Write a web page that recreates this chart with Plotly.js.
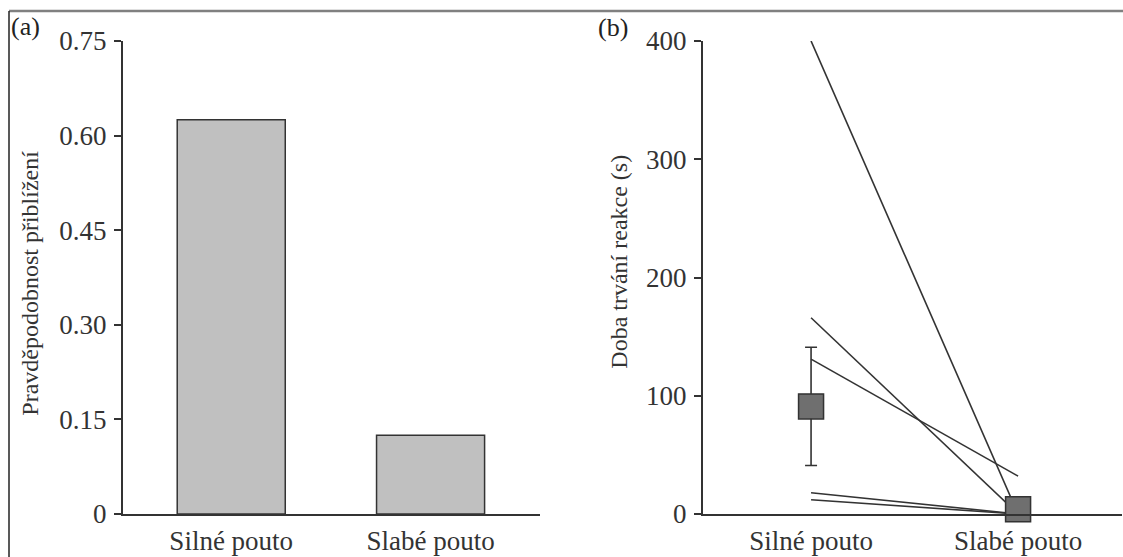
<!DOCTYPE html>
<html>
<head>
<meta charset="utf-8">
<script src="https://cdn.plot.ly/plotly-3.0.1.min.js"></script>
<style>html,body{margin:0;padding:0;background:#fff;}#chart{width:1123px;height:557px;}</style>
</head>
<body>
<div id="chart"></div>
<script>
// Data
var categories = ['Silné pouto', 'Slabé pouto'];
var probApproach = [0.625, 0.125];
var probTickVals = [0, 0.15, 0.30, 0.45, 0.60, 0.75];
var probTickText = ['0', '0.15', '0.30', '0.45', '0.60', '0.75'];

var durTickVals = [0, 100, 200, 300, 400];
var durTickText = ['0', '100', '200', '300', '400'];

// individual subjects: [strong bond, weak bond]
var subj1 = [400, 0];
var subj2 = [166, 0];
var subj3 = [131, 32];
var subj4 = [18, 0];
var subj5 = [12, 0];
var subjects = [subj1, subj2, subj3, subj4, subj5];

var meanDuration = [91, 4];
var errPlus = [50, 0];
var errMinus = [50, 0];

var txt = '#333333';
var fontFam = '"Liberation Serif", "Times New Roman", serif';

var traces = [];
traces.push({
  type: 'bar', x: categories, y: probApproach, xaxis: 'x', yaxis: 'y',
  width: 0.542,
  marker: {color: '#c0c0c0', line: {color: '#333333', width: 1.5}},
  hoverinfo: 'x+y', showlegend: false
});
subjects.forEach(function(s){
  traces.push({
    type: 'scatter', mode: 'lines', x: categories, y: s, xaxis: 'x2', yaxis: 'y2',
    line: {color: '#333333', width: 1.6}, showlegend: false, cliponaxis: false
  });
});
traces.push({
  type: 'scatter', mode: 'markers', x: categories, y: meanDuration, xaxis: 'x2', yaxis: 'y2',
  marker: {symbol: 'square', size: 25, color: '#6f6f6f', line: {color: '#333333', width: 1.5}},
  error_y: {type: 'data', symmetric: false, array: errPlus, arrayminus: errMinus, color: '#333333', thickness: 1.6, width: 6},
  showlegend: false, cliponaxis: false
});

var axBase = {
  showline: true, linecolor: '#333333', linewidth: 2, showgrid: false, zeroline: false,
  tickfont: {family: fontFam, size: 27, color: txt}
};

var layout = {
  width: 1123, height: 557,
  margin: {l: 0, r: 0, t: 41, b: 43},
  paper_bgcolor: '#ffffff', plot_bgcolor: '#ffffff',
  font: {family: fontFam, color: txt},
  showlegend: false,
  xaxis: Object.assign({}, axBase, {
    domain: [123/1123, 540.4/1123], type: 'category', range: [-0.543, 1.551],
    ticks: '', ticklabelstandoff: 2, fixedrange: true
  }),
  yaxis: Object.assign({}, axBase, {
    range: [0, 0.75], tickvals: probTickVals, ticktext: probTickText,
    ticks: 'outside', ticklen: 7, tickwidth: 2, tickcolor: '#333333',
    ticklabelstandoff: 2, fixedrange: true
  }),
  xaxis2: Object.assign({}, axBase, {
    domain: [703/1123, 1122/1123], type: 'category', range: [-0.522, 1.502],
    anchor: 'y2', ticks: '', ticklabelstandoff: 2, fixedrange: true
  }),
  yaxis2: Object.assign({}, axBase, {
    range: [0, 400], tickvals: durTickVals, ticktext: durTickText, anchor: 'x2',
    ticks: 'outside', ticklen: 7, tickwidth: 2, tickcolor: '#333333',
    ticklabelstandoff: 2, fixedrange: true
  }),
  annotations: [
    {text: 'Pravděpodobnost přiblížení', xref: 'paper', yref: 'paper', x: 29.2/1123, y: (514-283.5)/473,
     xanchor: 'center', yanchor: 'middle', textangle: -90, showarrow: false,
     font: {family: fontFam, size: 24, color: txt}},
    {text: 'Doba trvání reakce (s)', xref: 'paper', yref: 'paper', x: 619.4/1123, y: (514-261.3)/473,
     xanchor: 'center', yanchor: 'middle', textangle: -90, showarrow: false,
     font: {family: fontFam, size: 24, color: txt}},
    {text: '(a)', xref: 'paper', yref: 'paper', x: 25/1123, y: (514-26)/473,
     xanchor: 'center', yanchor: 'middle', showarrow: false,
     font: {family: fontFam, size: 26, color: '#222222'}},
    {text: '(b)', xref: 'paper', yref: 'paper', x: 612.5/1123, y: (514-27.5)/473,
     xanchor: 'center', yanchor: 'middle', showarrow: false,
     font: {family: fontFam, size: 26, color: '#222222'}}
  ],
  shapes: [
    {type: 'line', xref: 'paper', yref: 'paper', x0: 9/1123, x1: 1, y0: (514-11)/473, y1: (514-11)/473,
     line: {color: '#808080', width: 2.5}},
    {type: 'line', xref: 'paper', yref: 'paper', x0: 9/1123, x1: 9/1123, y0: (514-11)/473, y1: (514-560)/473,
     line: {color: '#222222', width: 1.5}}
  ]
};

Plotly.newPlot('chart', traces, layout, {displayModeBar: false, staticPlot: true});
</script>
</body>
</html>
